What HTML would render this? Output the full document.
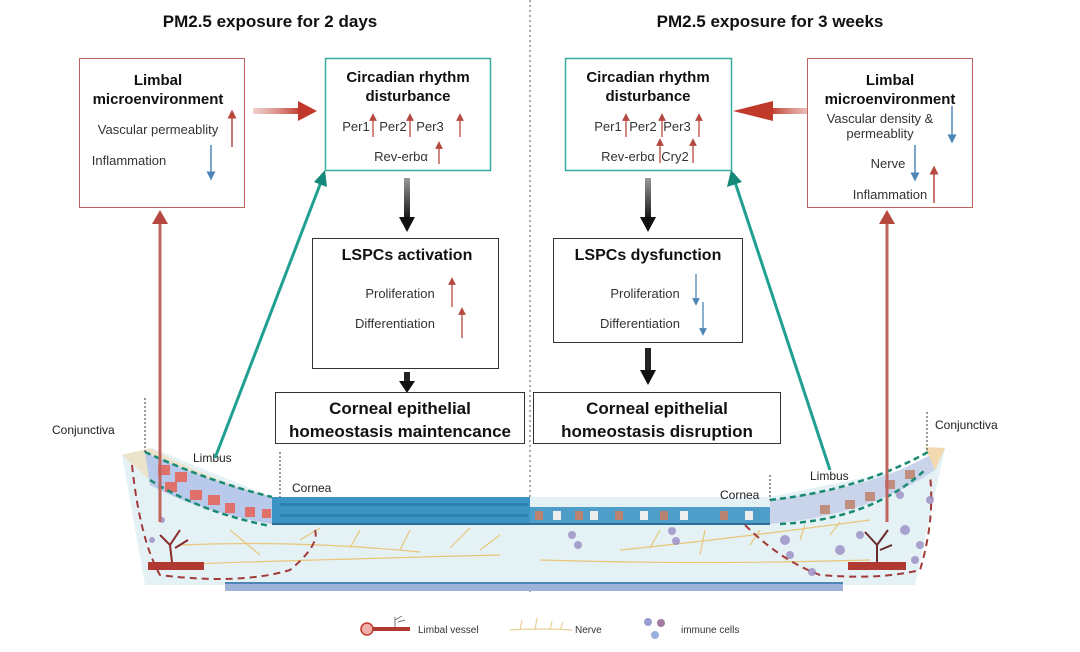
<!DOCTYPE html>
<html><head><meta charset="utf-8"><style>
html,body{margin:0;padding:0;background:#fff;}
svg{display:block;font-family:"Liberation Sans",sans-serif;}
.b{font-weight:bold;fill:#111;}
.t{fill:#333;font-size:13px;}
</style></head><body>
<svg width="1080" height="652" viewBox="0 0 1080 652" xmlns="http://www.w3.org/2000/svg">
<defs>
<marker id="ar" markerWidth="6" markerHeight="6" refX="3" refY="3" orient="auto"><path d="M0,0L6,3L0,6z" fill="#b5483f"/></marker>
<marker id="ab" markerWidth="6" markerHeight="6" refX="3" refY="3" orient="auto"><path d="M0,0L6,3L0,6z" fill="#4d86b5"/></marker>
<linearGradient id="gr" x1="0" x2="1"><stop offset="0" stop-color="#d98a82" stop-opacity="0.4"/><stop offset="1" stop-color="#c0392b"/></linearGradient>
<linearGradient id="gl" x1="1" x2="0"><stop offset="0" stop-color="#d98a82" stop-opacity="0.4"/><stop offset="1" stop-color="#c0392b"/></linearGradient>
<linearGradient id="gk" x1="0" y1="0" x2="0" y2="1"><stop offset="0" stop-color="#999"/><stop offset="1" stop-color="#111"/></linearGradient>
</defs>

<!-- titles -->
<text x="270" y="27" text-anchor="middle" class="b" font-size="17">PM2.5 exposure for 2 days</text>
<text x="770" y="27" text-anchor="middle" class="b" font-size="17">PM2.5 exposure for 3 weeks</text>
<line x1="530" y1="0" x2="530" y2="595" stroke="#555" stroke-dasharray="2,3" stroke-width="1"/>

<!-- tissue base -->
<path d="M122,455 L152,448 L272,497 L770,497 L900,470 L945,448 L915,585 L145,585 Z" fill="#e4f2f6"/>
<rect x="225" y="583" width="618" height="8" fill="#9fb2d8"/>
<line x1="225" y1="583" x2="843" y2="583" stroke="#4d86b5" stroke-width="2"/>
<!-- cornea epithelium left -->
<rect x="272" y="497" width="258" height="27" fill="#3b94c4"/>
<g fill="#1f6e9e">
<rect x="280" y="503" width="248" height="3" opacity="0.5"/><rect x="280" y="514" width="248" height="3" opacity="0.5"/></g>
<line x1="272" y1="524" x2="530" y2="524" stroke="#2a6f99" stroke-width="2"/>
<!-- cornea epithelium right -->
<rect x="530" y="507" width="240" height="17" fill="#4f9ec9"/>
<g fill="#eee">
<rect x="553" y="511" width="8" height="9"/><rect x="590" y="511" width="8" height="9"/><rect x="640" y="511" width="8" height="9"/><rect x="680" y="511" width="8" height="9"/><rect x="745" y="511" width="8" height="9"/></g>
<g fill="#b98372">
<rect x="535" y="511" width="8" height="9"/><rect x="575" y="511" width="8" height="9"/><rect x="615" y="511" width="8" height="9"/><rect x="660" y="511" width="8" height="9"/><rect x="720" y="511" width="8" height="9"/></g>
<line x1="530" y1="524" x2="770" y2="524" stroke="#2a6f99" stroke-width="2"/>
<!-- limbus left -->
<path d="M122,455 L150,448 Q210,480 272,497 L272,524 Q200,512 150,480 Z" fill="#f2d9b0" opacity="0.6"/>
<path d="M145,452 Q210,482 272,497 L272,524 Q200,512 150,485 Z" fill="#b9c9ec"/>
<g fill="#e0706a"><rect x="158" y="465" width="12" height="10"/><rect x="175" y="472" width="12" height="10"/><rect x="165" y="482" width="12" height="10"/><rect x="190" y="490" width="12" height="10"/><rect x="208" y="495" width="12" height="10"/><rect x="225" y="503" width="10" height="10"/><rect x="245" y="507" width="10" height="10"/><rect x="262" y="509" width="9" height="9"/></g>
<path d="M145,452 Q210,482 272,497" fill="none" stroke="#1a8a72" stroke-width="2.5" stroke-dasharray="6,4"/>
<path d="M150,480 Q200,512 270,526" fill="none" stroke="#1a8a72" stroke-width="2.5" stroke-dasharray="6,4"/>
<!-- limbus right -->
<path d="M770,500 Q850,490 900,470 L945,448 L935,470 Q870,515 770,524 Z" fill="#c9d3ea"/>
<g fill="#c08e7e"><rect x="820" y="505" width="10" height="9"/><rect x="845" y="500" width="10" height="9"/><rect x="865" y="492" width="10" height="9"/><rect x="885" y="480" width="10" height="9"/><rect x="905" y="470" width="10" height="9"/></g>
<path d="M925,447 L945,448 L935,470 Z" fill="#f2d9b0"/>
<path d="M770,500 Q860,490 928,452" fill="none" stroke="#1a8a72" stroke-width="2.5" stroke-dasharray="6,4"/>
<path d="M780,524 Q870,520 925,470" fill="none" stroke="#1a8a72" stroke-width="2.5" stroke-dasharray="6,4"/>
<!-- nerves -->
<g stroke="#e8c67a" stroke-width="1.2" fill="none">
<path d="M160,565 Q300,560 500,555"/><path d="M180,545 Q300,540 420,552"/><path d="M230,530 L260,555 M300,540 L320,528 M350,548 L360,530 M400,550 L410,530 M450,548 L470,528 M480,550 L500,535"/>
<path d="M540,560 Q700,565 870,560"/><path d="M620,550 Q720,540 870,520"/><path d="M650,548 L660,530 M700,555 L705,530 M750,545 L760,530 M800,540 L805,525 M830,535 L840,522"/>
</g>
<!-- dashed red regions -->
<path d="M132,465 Q140,540 160,575 Q240,585 290,570 Q320,545 315,530" fill="none" stroke="#a23a3a" stroke-width="2" stroke-dasharray="7,5"/>
<path d="M745,525 Q780,560 820,575 Q880,580 920,570 Q935,520 930,475" fill="none" stroke="#a23a3a" stroke-width="2" stroke-dasharray="7,5"/>
<!-- vessels -->
<rect x="148" y="562" width="56" height="8" fill="#b03a32"/>
<path d="M172,562 L170,545 L160,535 M170,545 L180,530 M175,548 L188,540" stroke="#8a2b2b" stroke-width="2" fill="none"/>
<rect x="848" y="562" width="58" height="8" fill="#b03a32"/>
<path d="M877,562 L877,545 L865,532 M877,545 L888,530 M880,550 L892,545" stroke="#6a2b2b" stroke-width="2" fill="none"/>
<!-- immune cells -->
<g fill="#9a8cc4" opacity="0.8"><circle cx="572" cy="535" r="4"/><circle cx="578" cy="545" r="4"/><circle cx="672" cy="531" r="4"/><circle cx="676" cy="541" r="4"/><circle cx="785" cy="540" r="5"/><circle cx="790" cy="555" r="4"/><circle cx="840" cy="550" r="5"/><circle cx="860" cy="535" r="4"/><circle cx="905" cy="530" r="5"/><circle cx="920" cy="545" r="4"/><circle cx="915" cy="560" r="4"/><circle cx="812" cy="572" r="4"/><circle cx="900" cy="495" r="4"/><circle cx="930" cy="500" r="4"/><circle cx="162" cy="520" r="3"/><circle cx="152" cy="540" r="3"/></g>

<!-- labels -->
<text x="52" y="434" font-size="12" fill="#222">Conjunctiva</text>
<line x1="145" y1="398" x2="145" y2="452" stroke="#333" stroke-dasharray="2,2"/>
<text x="193" y="462" font-size="12" fill="#222">Limbus</text>
<text x="292" y="492" font-size="12" fill="#222">Cornea</text>
<line x1="280" y1="452" x2="280" y2="497" stroke="#333" stroke-dasharray="2,2"/>
<text x="935" y="429" font-size="12" fill="#222">Conjunctiva</text>
<line x1="927" y1="412" x2="927" y2="452" stroke="#333" stroke-dasharray="2,2"/>
<text x="810" y="480" font-size="12" fill="#222">Limbus</text>
<text x="720" y="499" font-size="12" fill="#222">Cornea</text>
<line x1="770" y1="475" x2="770" y2="500" stroke="#333" stroke-dasharray="2,2"/>

<!-- long arrows -->
<line x1="160" y1="522" x2="160" y2="222" stroke="#c0645f" stroke-width="3"/>
<path d="M152,224 L160,210 L168,224 Z" fill="#b5483f"/>
<line x1="887" y1="522" x2="887" y2="222" stroke="#c0645f" stroke-width="3"/>
<path d="M879,224 L887,210 L895,224 Z" fill="#b5483f"/>
<line x1="215" y1="458" x2="321" y2="182" stroke="#20a090" stroke-width="3"/>
<path d="M314,182 L325,170 L327,187 Z" fill="#168a7a"/>
<line x1="830" y1="470" x2="735" y2="182" stroke="#20a090" stroke-width="3"/>
<path d="M727,187 L731,170 L742,182 Z" fill="#168a7a"/>

<!-- left top -->
<rect x="79.5" y="58.5" width="165" height="149" fill="#fff" stroke="#c0645f"/>
<text x="158" y="85" text-anchor="middle" class="b" font-size="15">Limbal</text>
<text x="158" y="104" text-anchor="middle" class="b" font-size="15">microenvironment</text>
<text x="158" y="134" text-anchor="middle" class="t">Vascular permeablity</text>
<text x="129" y="165" text-anchor="middle" class="t">Inflammation</text>
<line x1="232" y1="147" x2="232" y2="114" stroke="#b5483f" stroke-width="1.5" marker-end="url(#ar)"/>
<line x1="211" y1="145" x2="211" y2="176" stroke="#4d86b5" stroke-width="1.5" marker-end="url(#ab)"/>
<rect x="253" y="108" width="48" height="6" fill="url(#gr)"/>
<path d="M298,101 L317,111 L298,121 Z" fill="#c0392b"/>

<rect x="325.5" y="58.5" width="165" height="112" fill="#fff" stroke="#3aa9a0" stroke-width="1.5"/>
<text x="408" y="82" text-anchor="middle" class="b" font-size="15">Circadian rhythm</text>
<text x="408" y="101" text-anchor="middle" class="b" font-size="15">disturbance</text>
<text x="356" y="131" text-anchor="middle" class="t">Per1</text>
<text x="393" y="131" text-anchor="middle" class="t">Per2</text>
<text x="430" y="131" text-anchor="middle" class="t">Per3</text>
<text x="401" y="161" text-anchor="middle" class="t">Rev-erbα</text>
<g stroke="#b5483f" stroke-width="1.3" marker-end="url(#ar)"><line x1="373" y1="137" x2="373" y2="117"/><line x1="410" y1="137" x2="410" y2="117"/><line x1="460" y1="137" x2="460" y2="117"/><line x1="439" y1="164" x2="439" y2="145"/></g>

<rect x="404" y="178" width="6" height="42" fill="url(#gk)"/>
<path d="M399,217 L407,232 L415,217 Z" fill="#111"/>
<rect x="312.5" y="238.5" width="186" height="130" fill="#fff" stroke="#333"/>
<text x="407" y="260" text-anchor="middle" class="b" font-size="16">LSPCs activation</text>
<text x="400" y="298" text-anchor="middle" class="t">Proliferation</text>
<text x="395" y="328" text-anchor="middle" class="t">Differentiation</text>
<g stroke="#b5483f" stroke-width="1.3" marker-end="url(#ar)"><line x1="452" y1="307" x2="452" y2="281"/><line x1="462" y1="338" x2="462" y2="311"/></g>
<rect x="404" y="372" width="6" height="12" fill="#222"/>
<path d="M399,381 L407,393 L415,381 Z" fill="#111"/>
<rect x="275.5" y="392.5" width="249" height="51" fill="#fff" stroke="#333"/>
<text x="400" y="414" text-anchor="middle" class="b" font-size="17">Corneal epithelial</text>
<text x="400" y="437" text-anchor="middle" class="b" font-size="17">homeostasis maintencance</text>

<!-- right top -->
<rect x="565.5" y="58.5" width="166" height="112" fill="#fff" stroke="#3aa9a0" stroke-width="1.5"/>
<text x="648" y="82" text-anchor="middle" class="b" font-size="15">Circadian rhythm</text>
<text x="648" y="101" text-anchor="middle" class="b" font-size="15">disturbance</text>
<text x="608" y="131" text-anchor="middle" class="t">Per1</text>
<text x="643" y="131" text-anchor="middle" class="t">Per2</text>
<text x="677" y="131" text-anchor="middle" class="t">Per3</text>
<text x="628" y="161" text-anchor="middle" class="t">Rev-erbα</text>
<text x="675" y="161" text-anchor="middle" class="t">Cry2</text>
<g stroke="#b5483f" stroke-width="1.3" marker-end="url(#ar)"><line x1="626" y1="137" x2="626" y2="117"/><line x1="662" y1="137" x2="662" y2="117"/><line x1="699" y1="137" x2="699" y2="117"/><line x1="660" y1="163" x2="660" y2="142"/><line x1="693" y1="163" x2="693" y2="142"/></g>
<rect x="770" y="108" width="45" height="6" fill="url(#gl)"/>
<path d="M773,101 L733,111 L773,121 Z" fill="#c0392b" transform="translate(0,0)"/>

<rect x="807.5" y="58.5" width="165" height="149" fill="#fff" stroke="#c0645f"/>
<text x="890" y="85" text-anchor="middle" class="b" font-size="15">Limbal</text>
<text x="890" y="104" text-anchor="middle" class="b" font-size="15">microenvironment</text>
<text x="880" y="123" text-anchor="middle" class="t">Vascular density &amp;</text>
<text x="880" y="138" text-anchor="middle" class="t">permeablity</text>
<text x="888" y="168" text-anchor="middle" class="t">Nerve</text>
<text x="890" y="199" text-anchor="middle" class="t">Inflammation</text>
<line x1="952" y1="106" x2="952" y2="139" stroke="#4d86b5" stroke-width="1.5" marker-end="url(#ab)"/>
<line x1="915" y1="145" x2="915" y2="177" stroke="#4d86b5" stroke-width="1.5" marker-end="url(#ab)"/>
<line x1="934" y1="203" x2="934" y2="170" stroke="#b5483f" stroke-width="1.5" marker-end="url(#ar)"/>

<rect x="645" y="178" width="6" height="42" fill="url(#gk)"/>
<path d="M640,217 L648,232 L656,217 Z" fill="#111"/>
<rect x="553.5" y="238.5" width="189" height="104" fill="#fff" stroke="#333"/>
<text x="648" y="260" text-anchor="middle" class="b" font-size="16">LSPCs dysfunction</text>
<text x="645" y="298" text-anchor="middle" class="t">Proliferation</text>
<text x="640" y="328" text-anchor="middle" class="t">Differentiation</text>
<g stroke="#4d86b5" stroke-width="1.3" marker-end="url(#ab)"><line x1="696" y1="274" x2="696" y2="302"/><line x1="703" y1="302" x2="703" y2="332"/></g>
<rect x="645" y="348" width="6" height="25" fill="#222"/>
<path d="M640,370 L648,385 L656,370 Z" fill="#111"/>
<rect x="533.5" y="392.5" width="247" height="51" fill="#fff" stroke="#333"/>
<text x="657" y="414" text-anchor="middle" class="b" font-size="17">Corneal epithelial</text>
<text x="657" y="437" text-anchor="middle" class="b" font-size="17">homeostasis disruption</text>

<!-- legend -->
<circle cx="367" cy="629" r="6" fill="#f2b0aa" stroke="#c0392b" stroke-width="1.5"/>
<rect x="373" y="627" width="37" height="4" fill="#b03a32"/>
<path d="M395,627 L395,617 M395,620 L402,616 M398,622 L405,620" stroke="#777" stroke-width="1" fill="none"/>
<text x="418" y="633" font-size="10" fill="#333">Limbal vessel</text>
<path d="M510,630 Q540,628 572,630 M520,630 L522,620 M535,630 L537,618 M550,630 L552,621 M560,630 L563,622" stroke="#e8d19a" stroke-width="1.2" fill="none"/>
<text x="575" y="633" font-size="10" fill="#333">Nerve</text>
<circle cx="648" cy="622" r="4" fill="#9a9cd4"/><circle cx="661" cy="623" r="4" fill="#a07ca0"/><circle cx="655" cy="635" r="4" fill="#9ab0dc"/>
<text x="681" y="633" font-size="10" fill="#333">immune cells</text>
</svg>
</body></html>
